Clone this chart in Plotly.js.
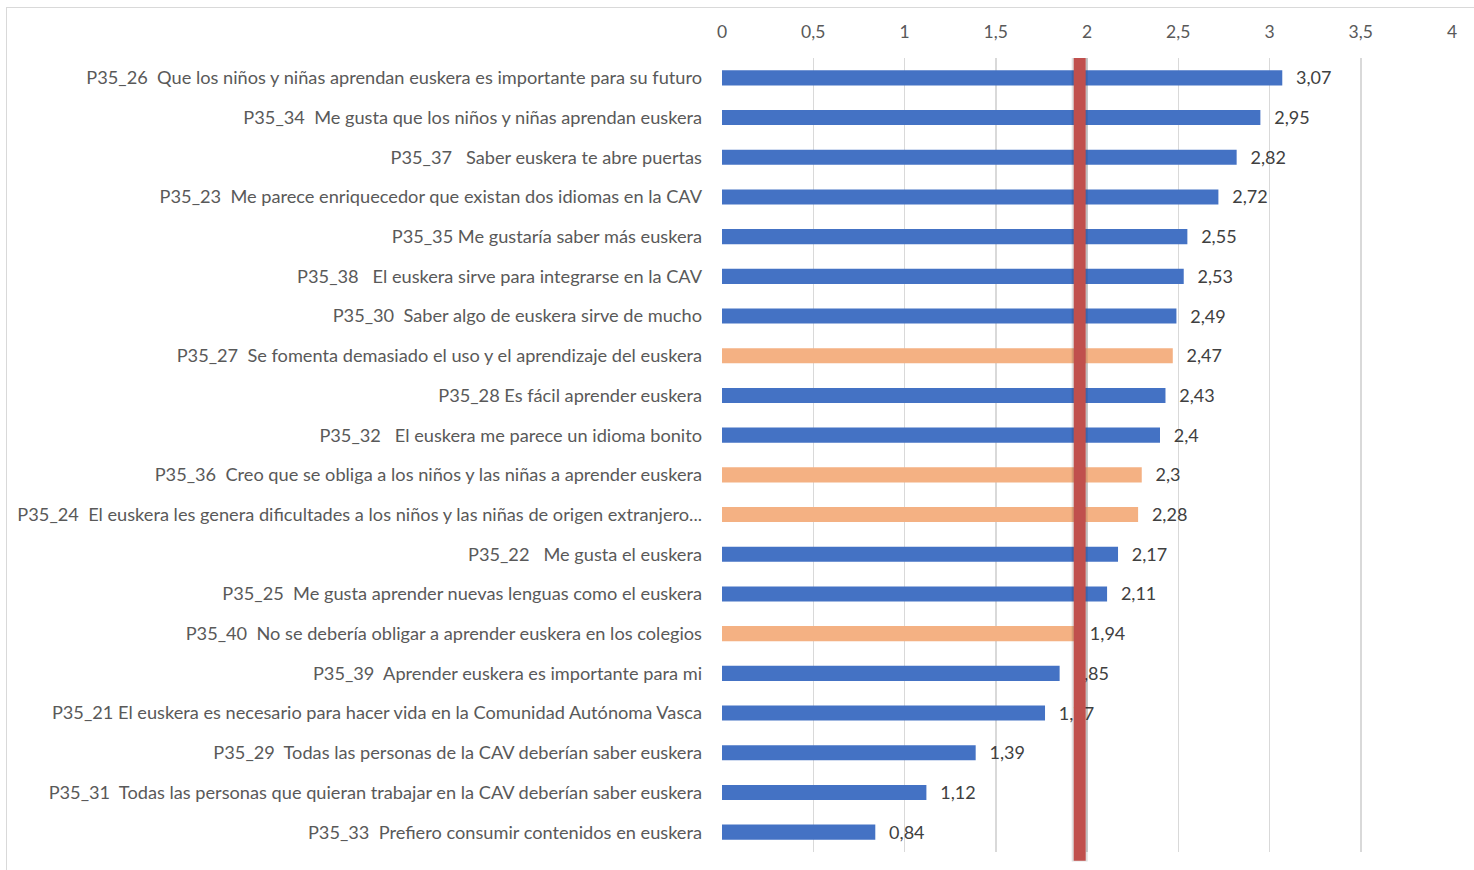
<!DOCTYPE html>
<html>
<head>
<meta charset="utf-8">
<script src="https://cdn.plot.ly/plotly-3.0.1.min.js"></script>
<style>
  html, body { margin: 0; padding: 0; background: #fff; }
  #frame { position: absolute; left: 6px; top: 7px; width: 1468px; height: 863px;
           border-left: 1.5px solid #d9d9d9; border-top: 1.5px solid #d9d9d9; box-sizing: border-box; }
  #chart { position: absolute; left: 0; top: 0; width: 1474px; height: 870px; }
</style>
</head>
<body>
<div id="frame"></div>
<div id="chart"></div>
<script>
const NB = '\u00a0';
const categories = [
  "P35_26  Que los niños y niñas aprendan euskera es importante para su futuro",
  "P35_34  Me gusta que los niños y niñas aprendan euskera",
  "P35_37   Saber euskera te abre puertas",
  "P35_23  Me parece enriquecedor que existan dos idiomas en la CAV",
  "P35_35 Me gustaría saber más euskera",
  "P35_38   El euskera sirve para integrarse en la CAV",
  "P35_30  Saber algo de euskera sirve de mucho",
  "P35_27  Se fomenta demasiado el uso y el aprendizaje del euskera",
  "P35_28 Es fácil aprender euskera",
  "P35_32   El euskera me parece un idioma bonito",
  "P35_36  Creo que se obliga a los niños y las niñas a aprender euskera",
  "P35_24  El euskera les genera dificultades a los niños y las niñas de origen extranjero...",
  "P35_22   Me gusta el euskera",
  "P35_25  Me gusta aprender nuevas lenguas como el euskera",
  "P35_40  No se debería obligar a aprender euskera en los colegios",
  "P35_39  Aprender euskera es importante para mi",
  "P35_21 El euskera es necesario para hacer vida en la Comunidad Autónoma Vasca",
  "P35_29  Todas las personas de la CAV deberían saber euskera",
  "P35_31  Todas las personas que quieran trabajar en la CAV deberían saber euskera",
  "P35_33  Prefiero consumir contenidos en euskera"
];
const values = [3.07, 2.95, 2.82, 2.72, 2.55, 2.53, 2.49, 2.47, 2.43, 2.4,
                2.3, 2.28, 2.17, 2.11, 1.94, 1.85, 1.77, 1.39, 1.12, 0.84];
// statement direction: 'neg' = statements against euskera (orange)
const direction = ['pos','pos','pos','pos','pos','pos','pos','neg','pos','pos',
                   'neg','neg','pos','pos','neg','pos','pos','pos','pos','pos'];
const referenceValue = 1.96;
const xTickValues = [0, 0.5, 1, 1.5, 2, 2.5, 3, 3.5, 4];

const cats = categories.map(c => c.replace(/ /g, NB));
const colorMap = { pos: '#4472C4', neg: '#F4B183' };
const barColors = direction.map(d => colorMap[d]);
const labelText = values.map(v => NB + NB + NB + String(v).replace('.', ','));
const n = categories.length;
const rowIndex = categories.map((c, i) => i);

const bars = {
  type: 'bar', orientation: 'h',
  x: values, y: cats,
  marker: { color: barColors, line: { width: 0 } },
  hoverinfo: 'x+y'
};
const labels = {
  type: 'scatter', mode: 'text',
  x: values, y: rowIndex, yaxis: 'y2',
  text: labelText,
  textposition: 'middle right',
  textfont: { family: 'Lato, "Open Sans", sans-serif', size: 18, color: '#404040' },
  cliponaxis: false,
  hoverinfo: 'skip',
  showlegend: false
};

const layout = {
  width: 1474, height: 870,
  margin: { l: 722, r: 22, t: 58, b: 18, pad: 0 },
  paper_bgcolor: 'rgba(0,0,0,0)', plot_bgcolor: 'rgba(0,0,0,0)',
  separators: ',.',
  showlegend: false,
  bargap: 0.62,
  font: { family: 'Lato, "Open Sans", sans-serif', color: '#595959', size: 17 },
  xaxis: {
    side: 'top', range: [0, 4], tickvals: xTickValues,
    showgrid: true, gridcolor: '#d9d9d9', gridwidth: 1.5,
    zeroline: false, showline: false, ticks: '',
    ticklabelstandoff: 16,
    tickfont: { size: 17.5, color: '#595959' }
  },
  yaxis: {
    type: 'category', range: [n - 0.5, -0.5],
    showgrid: false, zeroline: false, showline: false, ticks: '',
    ticklabelstandoff: 19,
    tickfont: { size: 18.2, color: '#595959' }
  },
  yaxis2: {
    overlaying: 'y', range: [n - 0.55, -0.55],
    visible: false, showgrid: false, zeroline: false
  },
  shapes: [
    { type: 'line', xref: 'x', yref: 'paper', x0: referenceValue, x1: referenceValue,
      y0: -0.012, y1: 1, xshift: 2, layer: 'above',
      line: { color: 'rgba(0,0,0,0.12)', width: 16 } },
    { type: 'line', xref: 'x', yref: 'paper', x0: referenceValue, x1: referenceValue,
      y0: -0.011, y1: 1, layer: 'above',
      line: { color: '#C0504D', width: 12 } }
  ]
};

Plotly.newPlot('chart', [bars, labels], layout, { displayModeBar: false, staticPlot: true });
</script>
</body>
</html>
